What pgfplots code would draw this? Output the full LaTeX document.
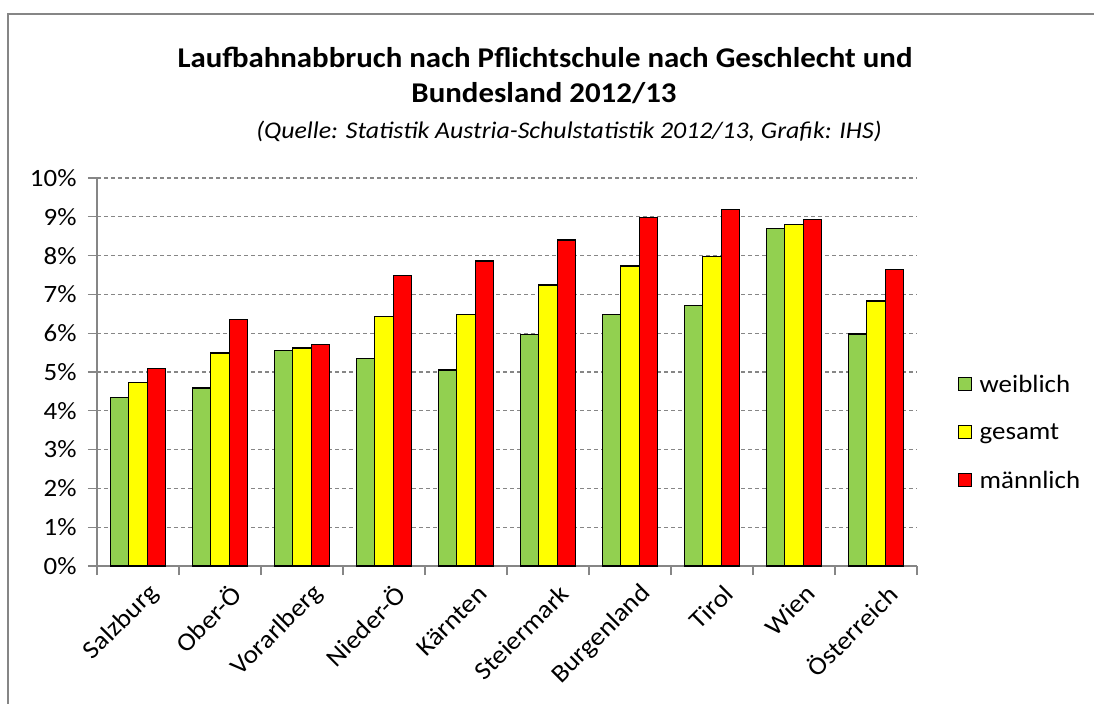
\documentclass[border=0pt]{standalone}
\usepackage{pgfplots}
\pgfplotsset{compat=1.18}
\usepackage{fontspec}
\setmainfont{Carlito}[FakeStretch=1.08]
\definecolor{cg}{HTML}{92D050}
\definecolor{cy}{HTML}{FFFF00}
\definecolor{cr}{HTML}{FF0000}
\definecolor{axgray}{HTML}{868686}
\begin{document}
\begin{tikzpicture}
\useasboundingbox (-97bp,-138bp) rectangle (997bp,566bp);
\begin{axis}[
  at={(0,0)}, anchor=south west,
  scale only axis, width=820bp, height=388bp,
  ybar=0pt, bar width=18.3bp,
  xmin=-0.5, xmax=9.5, ymin=0, ymax=10,
  axis x line*=bottom, axis y line*=left,
  axis line style={axgray, line width=1.5bp},
  xtick={0,...,9},
  xticklabels={Salzburg,Ober-Ö,Vorarlberg,Nieder-Ö,Kärnten,Steiermark,Burgenland,Tirol,Wien,Österreich},
  minor xtick={-0.5,0.5,...,9.5},
  major x tick style={draw=none},
  minor x tick style={axgray, line width=1.3bp},
  ytick={0,...,10},
  yticklabels={0\%,1\%,2\%,3\%,4\%,5\%,6\%,7\%,8\%,9\%,10\%},
  y tick style={axgray, line width=1.3bp},
  tick align=outside, major tick length=9bp, minor tick length=9bp,
  ymajorgrids,
  grid style={axgray, line width=1.3bp, dash pattern=on 4bp off 3bp},
  x tick label style={rotate=45, anchor=east, xshift=5bp, yshift=-22bp, font=\fontsize{25.5}{27}\selectfont},
  y tick label style={font=\fontsize{25}{27}\selectfont, xshift=-8bp},
  legend style={at={(1,0.345)}, anchor=west, xshift=38bp, draw=none, fill=none,
    font=\fontsize{25}{27}\selectfont, row sep=26bp},
  legend cell align=left,
]
\addplot[fill=cg, draw=black, line width=1.2bp,
  legend image code/.code={\path[draw=none,fill=none] (0bp,0bp) -- (19bp,0bp);\draw[fill=cg, draw=black, line width=1bp] (0bp,-6.5bp) rectangle (13bp,6.5bp);}]
  coordinates {(0,4.34) (1,4.59) (2,5.55) (3,5.34) (4,5.05) (5,5.97) (6,6.49) (7,6.72) (8,8.69) (9,5.98)};
\addplot[fill=cy, draw=black, line width=1.2bp,
  legend image code/.code={\path[draw=none,fill=none] (0bp,0bp) -- (19bp,0bp);\draw[fill=cy, draw=black, line width=1bp] (0bp,-6.5bp) rectangle (13bp,6.5bp);}]
  coordinates {(0,4.72) (1,5.49) (2,5.62) (3,6.44) (4,6.49) (5,7.24) (6,7.73) (7,7.97) (8,8.81) (9,6.83)};
\addplot[fill=cr, draw=black, line width=1.2bp,
  legend image code/.code={\path[draw=none,fill=none] (0bp,0bp) -- (19bp,0bp);\draw[fill=cr, draw=black, line width=1bp] (0bp,-6.5bp) rectangle (13bp,6.5bp);}]
  coordinates {(0,5.09) (1,6.36) (2,5.70) (3,7.48) (4,7.86) (5,8.40) (6,8.98) (7,9.19) (8,8.94) (9,7.65)};
\legend{weiblich,gesamt,männlich}
\end{axis}
\draw[axgray, line width=2bp] (-89bp,-140bp) -- (-89bp,552bp) -- (1000bp,552bp);
\node[font=\bfseries\fontsize{28.7}{32}\selectfont] at (448bp,509bp) {Laufbahnabbruch nach Pflichtschule nach Geschlecht und};
\node[font=\bfseries\fontsize{28.7}{32}\selectfont] at (447bp,473bp) {Bundesland 2012/13};
\node[font=\itshape\fontsize{24}{27}\selectfont] at (472bp,435bp) {(Quelle: Statistik Austria-Schulstatistik 2012/13, Grafik: IHS)};
\end{tikzpicture}
\end{document}
